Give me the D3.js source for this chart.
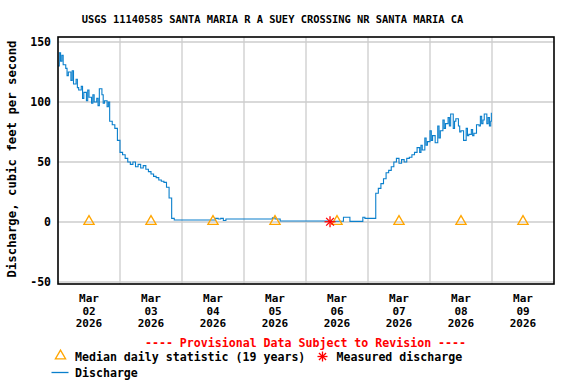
<!DOCTYPE html>
<html><head><meta charset="utf-8">
<script src="https://cdn.jsdelivr.net/npm/d3@7"></script>
<style>
html,body{margin:0;padding:0;background:#fff;}
text{font-family:"DejaVu Sans Mono",monospace;font-weight:bold;}
</style></head>
<body><svg id="c" width="576" height="384"></svg>
<script>
const title = "USGS 11140585 SANTA MARIA R A SUEY CROSSING NR SANTA MARIA CA";
const yLabel = "Discharge, cubic feet per second";
const yTicks = [-50, 0, 50, 100, 150];
const dayLabels = ["Mar|02|2026","Mar|03|2026","Mar|04|2026","Mar|05|2026","Mar|06|2026","Mar|07|2026","Mar|08|2026","Mar|09|2026"];
// hours after 2026-03-02 00:00
const dischargeHours = [0,0.5,1,1.5,2,3,3.5,4,5,5.5,6,7,7.5,8,9,9.5,10,11,11.5,12,13,13.5,14,15,15.5,16,17,17.5,18,19,19.5,20,21,22,23,24,25,26,27,28,29,30,31,32,33,34,35,36,37,38,39,40,41,42,43,44,45,61,62,63,64,65,83,84,86,105,110.5,113,118,118.8,123,124,125,126,127,128,129,130,131,132,133,134,135,136,137,138,139,140,140.5,141,142,142.5,143,144,144.5,145,146,147,147.5,148,149,149.5,150,151,151.5,152,153,153.5,154,155,155.5,156,157,158,158.5,159,160,160.5,161,162,163,163.5,164,164.5,165,166,166.5,167,167.5,167.75];
const dischargeValues = [130,141,134,139,131,128,122,125,118,126,115,119,112,110,113,103,108,101,110,104,99,106,100,103,97,111,106,99,101,96,100,84,81,78,68,58,56,53,50,48,50,46,48,45,47,44,42,40,38,37,35,34,33,29,20,3,1.7,3,2.5,3,1.2,2.5,3.5,2.5,0.8,0.6,4,0.5,4,3,24,28,32,36,41,43,46,50,53,49,52,50,53,54,56,58,62,58,64,60,70,64,67,76,68,72,66,80,70,76,85,78,82,87,80,90,78,84,86,80,75,76,68,78,72,73,77,72,74,81,80,88,82,85,90,82,87,80,84,91,83,80];
const medianDays = [0,1,2,3,4,5,6,7];
const medianValues = [0,0,0,0,0,0,0,0];
const measuredHours = [105.3];
const measuredValues = [0.2];

const svg = d3.select("#c");
const t0 = new Date(2026,2,2,0,0);
const hr = h => new Date(t0.getTime() + h*3600000);
const L=58, R=554, T=37, B=284;
const x = d3.scaleTime().domain([t0, hr(192)]).range([L, R]);
const y = d3.scaleLinear().domain([-50,150]).range([282,42]);

// grid
const g = svg.append("g");
const dayTicks = d3.range(1,8).map(d => hr(d*24));
g.selectAll("line.vg").data(dayTicks).join("line")
  .attr("x1", d=>x(d)).attr("x2", d=>x(d)).attr("y1", T).attr("y2", B)
  .attr("stroke", "#cccccc").attr("stroke-width", 1.3);
g.selectAll("line.hg").data(yTicks).join("line")
  .attr("x1", L).attr("x2", R).attr("y1", d=>y(d)).attr("y2", d=>y(d))
  .attr("stroke", "#cccccc").attr("stroke-width", 1.3);

// discharge line
const pts = dischargeHours.map((h,i)=>[hr(h), dischargeValues[i]]);
svg.append("path").datum(pts)
  .attr("d", d3.line().x(d=>x(d[0])).y(d=>y(d[1])).curve(d3.curveStepAfter))
  .attr("fill","none").attr("stroke","#0a7fcc").attr("stroke-width",1.1);

// median triangles
const tri = d3.symbol().type(d3.symbolTriangle2).size(75);
svg.selectAll("path.med").data(medianDays).join("path")
  .attr("d", tri).attr("transform", (d,i)=>`translate(${x(hr(d*24+12))},${y(medianValues[i])-0.5})`)
  .attr("fill","none").attr("stroke","#ffa500").attr("stroke-width",1.3);

// measured asterisk
function star(sel, cx, cy, r){
  [0,45,90,135].forEach(a=>{
    const rad=a*Math.PI/180;
    sel.append("line").attr("x1",cx-r*Math.cos(rad)).attr("y1",cy-r*Math.sin(rad))
      .attr("x2",cx+r*Math.cos(rad)).attr("y2",cy+r*Math.sin(rad))
      .attr("stroke","#ff0000").attr("stroke-width",1.3);
  });
}
measuredHours.forEach((h,i)=>star(svg, x(hr(h)), y(measuredValues[i]), 5.5));

// frame
svg.append("rect").attr("x",L).attr("y",T).attr("width",R-L).attr("height",B-T)
  .attr("fill","none").attr("stroke","#000").attr("stroke-width",1.6);

// y tick labels
svg.selectAll("text.yt").data(yTicks).join("text")
  .attr("x", 51).attr("y", d=>y(d)+4).attr("text-anchor","end")
  .attr("font-size", 11.5).text(d=>d);

// x labels
dayLabels.forEach((lab,i)=>{
  const parts = lab.split("|");
  parts.forEach((p,j)=>{
    svg.append("text").attr("x", x(hr(i*24+12))).attr("y", 302+j*12.7)
      .attr("text-anchor","middle").attr("font-size",11).text(p);
  });
});

// title
svg.append("text").attr("x", 272.5).attr("y", 23).attr("text-anchor","middle")
  .attr("font-size",10.4).text(title);

// y axis label
svg.append("text").attr("transform","translate(16,159) rotate(-90)")
  .attr("text-anchor","middle").attr("font-size",12.3).text(yLabel);

// provisional
svg.append("text").attr("x", 305.5).attr("y", 347).attr("text-anchor","middle")
  .attr("font-size",11.6).attr("fill","#ff0000").text("---- Provisional Data Subject to Revision ----");

// legend
svg.append("path").attr("d", d3.symbol().type(d3.symbolTriangle2).size(75))
  .attr("transform","translate(60.5,356)").attr("fill","none").attr("stroke","#ffa500").attr("stroke-width",1.3);
svg.append("text").attr("x",75).attr("y",361).attr("font-size",11.6).text("Median daily statistic (19 years)");
star(svg, 322.5, 356.5, 5);
svg.append("text").attr("x",336.5).attr("y",361).attr("font-size",11.6).text("Measured discharge");
svg.append("line").attr("x1",51.5).attr("x2",68.5).attr("y1",372.5).attr("y2",372.5)
  .attr("stroke","#0a7fcc").attr("stroke-width",1.3);
svg.append("text").attr("x",75).attr("y",377).attr("font-size",11.6).text("Discharge");
</script></body></html>
